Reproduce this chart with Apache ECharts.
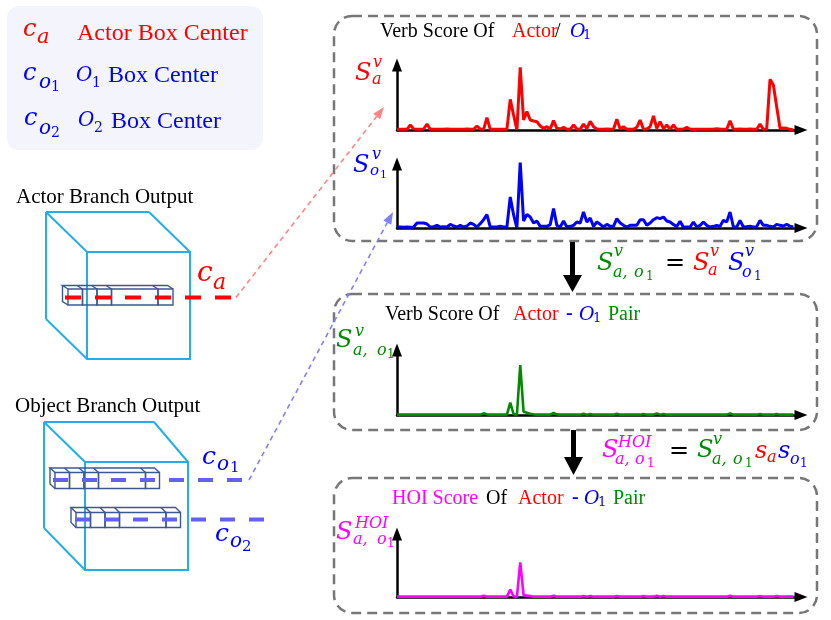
<!DOCTYPE html>
<html><head><meta charset="utf-8">
<script src="https://cdn.jsdelivr.net/npm/echarts@6/dist/echarts.min.js"></script>
<style>html,body{margin:0;padding:0;background:#fff}#c{width:831px;height:620px}</style>
</head><body><div id="c"></div>
<script>
// ---- data (verb class index -> score, arbitrary units) ----
const actorVerb = [
 2,2,2,2,15,3,2,2,3,18,
 2,2,2,2,2,3,2,2,2,2,
 2,3,2,2,12,3,2,37,2,2,
 2,2,2,2,92,45,0,188,30,55,
 30,27,25,12,5,10,3,28,5,3,
 8,2,2,15,3,2,18,4,26,10,
 3,2,2,3,2,2,32,3,10,2,
 2,2,8,30,2,3,10,42,5,25,
 4,15,2,15,2,2,3,8,2,2,
 2,2,2,2,2,2,4,2,2,2,
 28,2,2,3,2,2,3,2,2,18,
 2,3,152,135,70,5,6,5,2,0];
const objectVerb = [
 3,3,2,3,2,3,15,15,15,12,
 3,4,8,3,4,3,11,6,3,8,
 3,6,15,11,3,13,25,40,3,3,
 3,5,3,3,93,40,0,198,21,41,
 33,15,21,5,5,5,10,58,8,3,
 21,3,5,8,18,15,48,18,30,5,
 18,11,3,11,5,5,28,15,8,3,
 8,8,8,25,25,8,15,25,31,28,
 33,21,18,10,5,20,2,3,3,18,
 3,8,18,8,3,5,8,5,23,18,
 48,3,3,23,3,4,5,3,4,23,
 8,8,5,3,11,8,6,11,5,3];
const pairVerb = [
 1,1,1,1,1,1,1,1,1,1,
 1,1,1,1,1,1,1,1,1,1,
 1,1,1,1,1,1,5,2,1,1,
 1,1,1,1,37,3,0,150,10,7,
 4,2,1,1,1,1,1,6,2,1,
 1,1,1,1,1,1,4,1,3,1,
 1,1,1,1,1,1,4,1,1,1,
 1,1,1,1,3,1,1,1,5,1,
 3,1,1,1,1,1,1,1,1,1,
 1,1,1,1,1,1,1,1,1,1,
 5,1,1,1,1,1,1,1,1,3,
 1,1,1,1,3,1,1,1,1,1];
const pairHOI = [
 1,1,1,1,1,1,1,1,1,1,
 1,1,1,1,1,1,1,1,1,1,
 1,1,1,1,1,1,4,1,1,1,
 1,1,1,1,22,2,0,104,6,4,
 3,1,1,1,1,1,1,4,1,1,
 1,1,1,1,1,1,3,1,3,1,
 1,1,1,1,1,1,3,1,1,1,
 1,1,1,1,3,1,1,1,4,1,
 3,1,1,1,1,1,1,1,1,1,
 1,1,1,1,1,1,1,1,1,1,
 4,1,1,1,1,1,1,1,1,3,
 1,1,1,1,3,1,1,1,1,1];
const yMax = [195, 192, 195, 189];

const RED='#ff0000', BLUE='#0000ff', GREEN='#008a00', MAG='#ff00ff', BLACK='#000000';
const SERIF='"Liberation Serif","Times New Roman",serif';
const MATH='"DejaVu Serif",serif';
function T(x,y,text,fill,size,italic,family,weight){
  return {type:'text',x:x,y:y,z:20,style:{text:text,fill:fill,
    font:(italic?'italic ':'')+(weight||'normal')+' '+size+'px '+(family||SERIF),
    textAlign:'left',textVerticalAlign:'middle',align:'left',verticalAlign:'middle'}};
}
function M(x,y,text,fill,size){return T(x,y,text,fill,size,true,MATH);}
function D(x,y,text,fill,size){return T(x,y,text,fill,size,false,MATH);}
function L(x1,y1,x2,y2,stroke,w,dash,z){
  const s={stroke:stroke,lineWidth:w};
  if(dash) s.lineDash=dash;
  return {type:'line',z:z||5,shape:{x1:x1,y1:y1,x2:x2,y2:y2},style:s};
}
function arrowLine(x1,y1,tx,ty,color,w,dash,len,half){
  const dx=tx-x1, dy=ty-y1, d=Math.sqrt(dx*dx+dy*dy), ux=dx/d, uy=dy/d;
  const bx=tx-ux*len, by=ty-uy*len, nx=-uy, ny=ux;
  return [L(x1,y1,bx,by,color,w,dash,6),
    {type:'polygon',z:6,shape:{points:[[tx,ty],[bx+nx*half,by+ny*half],[bx-nx*half,by-ny*half]]},style:{fill:color}}];
}
function strip(xs,yT,yB,dx,dy,color){
  const els=[], st={fill:'none',stroke:color,lineWidth:1.4};
  const x0=xs[0], xN=xs[xs.length-1];
  for(let k=0;k<xs.length-1;k++) els.push({type:'rect',z:4,shape:{x:xs[k],y:yT,width:xs[k+1]-xs[k],height:yB-yT},style:st});
  els.push({type:'polyline',z:4,shape:{points:[[x0,yT],[x0+dx,yT+dy],[xN+dx,yT+dy],[xN,yT]]},style:st});
  for(let k=1;k<xs.length-1;k++) els.push(L(xs[k],yT,xs[k]+dx,yT+dy,color,1.4,null,4));
  els.push({type:'polyline',z:4,shape:{points:[[x0+dx,yT+dy],[x0+dx,yB+dy],[x0,yB]]},style:st});
  return els;
}
function cube(bx,by,bw,bh,fx,fy,fw,fh,color){
  return [L(bx,by,bx+bw,by,color,2,null,3), L(bx,by,bx,by+bh,color,2,null,3),
    L(bx,by,fx,fy,color,2,null,3), L(bx+bw,by,fx+fw,fy,color,2,null,3), L(bx,by+bh,fx,fy+fh,color,2,null,3),
    {type:'rect',z:3,shape:{x:fx,y:fy,width:fw,height:fh},style:{fill:'none',stroke:color,lineWidth:2}}];
}
function dbox(x,y,w,h){
  return {type:'rect',z:1,shape:{x:x,y:y,width:w,height:h,r:18},style:{fill:'none',stroke:'#777777',lineWidth:2.5,lineDash:[10,6]}};
}

const CUBE='#25aee6', STRIP='#3b5894';
let g=[];
// legend
g.push({type:'rect',z:0,shape:{x:7,y:6,width:256,height:144,r:12},style:{fill:'#f4f4fc'}});
g.push(M(23,30,'c',RED,24), M(37,38,'a',RED,21), T(77,34,'Actor Box Center',RED,24));
g.push(M(23,74,'c',BLUE,24), M(39,83,'o',BLUE,20), D(51,87,'1',BLUE,14), M(76,76,'O',BLUE,20), D(92,83,'1',BLUE,14), T(108,76,'Box Center',BLUE,24));
g.push(M(24,119,'c',BLUE,24), M(39,129,'o',BLUE,20), D(51,133,'2',BLUE,14), M(78,121,'O',BLUE,20), D(94,128,'2',BLUE,14), T(111,122,'Box Center',BLUE,24));
// cubes
g.push(T(16,197,'Actor Branch Output',BLACK,21));
g=g.concat(cube(46,212,103,107,87,252,103,107,CUBE));
g=g.concat(strip([68,82.5,97,111.5,158,173],289,305,-5.5,-3.5,STRIP));
g.push(L(65,297.5,236,297.5,RED,4,[16,14],8));
g.push(M(197,274,'c',RED,28), M(213,283,'a',RED,22));
g.push(T(15,406.5,'Object Branch Output',BLACK,21));
g=g.concat(cube(44,422,110,106,85,462,103,108,CUBE));
g=g.concat(strip([55,69.5,84,98.5,145.5,159.5],472.5,488.5,-5,-4.5,STRIP));
g=g.concat(strip([76,90.5,105,119.5,166,180.5],512.5,527.5,-5,-5,STRIP));
g.push(L(53,480,249,480,'#6262ee',4,[15,14],8));
g.push(L(75,519.5,266,519.5,'#6262ee',4,[15,14],8));
g.push(M(202,457,'c',BLUE,25), M(217,465,'o',BLUE,20), D(230,468.5,'1',BLUE,15));
g.push(M(215,534,'c',BLUE,25), M(230,542,'o',BLUE,20), D(242,547.5,'2',BLUE,15));
// connectors
g=g.concat(arrowLine(236,297.5,384,107,'#ff8585',1.6,[5,4],12,4.5));
g=g.concat(arrowLine(249,480,393,212,'#8080ff',1.6,[5,4],12,4.5));
// right boxes
g.push(dbox(334,16,483,225), dbox(334,294,483,136), dbox(334,478,483,135));
// titles
g.push(T(380,32,'Verb Score Of',BLACK,20), T(512,32,'Actor',RED,20), T(555,32,'/',BLACK,20), M(570,32,'O',BLUE,19), D(583,36,'1',BLUE,13));
g.push(T(385,315,'Verb Score Of',BLACK,20), T(513,315,'Actor',RED,20), T(566,314,'-',BLUE,20,false,SERIF,'bold'), M(579,315,'O',BLUE,19), D(593,319,'1',BLUE,13), T(608,315,'Pair',GREEN,20));
g.push(T(392,499,'HOI Score',MAG,20), T(486,499,'Of',BLACK,20), T(518,499,'Actor',RED,20), T(572,498,'-',BLUE,20,false,SERIF,'bold'), M(584,499,'O',BLUE,19), D(598,503,'1',BLUE,13), T(613,499,'Pair',GREEN,20));
// y labels
g.push(M(355,73.5,'S',RED,24), M(373,63,'v',RED,16), M(372,80,'a',RED,16));
g.push(M(353,165.5,'S',BLUE,24), M(372,154.5,'v',BLUE,16), M(370,171.5,'o',BLUE,15), D(380,175.5,'1',BLUE,11));
g.push(M(336,341,'S',GREEN,24), M(355,331.5,'v',GREEN,16), M(353,351,'a,',GREEN,16), M(377,351,'o',GREEN,16), D(387,355,'1',GREEN,12));
g.push(M(336,532.5,'S',MAG,24), M(355,523.5,'HOI',MAG,16), M(353,540,'a,',MAG,16), M(377,540,'o',MAG,16), D(387,544,'1',MAG,12));
// arrows down
g.push({type:'rect',z:6,shape:{x:570,y:242,width:5,height:35},style:{fill:BLACK}});
g.push({type:'polygon',z:6,shape:{points:[[563,275],[582,275],[572.5,292]]},style:{fill:BLACK}});
g.push({type:'rect',z:6,shape:{x:571,y:430,width:5,height:28},style:{fill:BLACK}});
g.push({type:'polygon',z:6,shape:{points:[[564,457],[583,457],[573.5,475]]},style:{fill:BLACK}});
// formula 1
g.push(M(597,264,'S',GREEN,24), M(614,252,'v',GREEN,16), M(613,272.5,'a,',GREEN,16), M(634,272.5,'o',GREEN,16), D(646,276.5,'1',GREEN,12),
  D(665,264,'=',BLACK,24), M(693,264,'S',RED,24), M(710,251.5,'v',RED,16), M(708,270.5,'a',RED,16),
  M(728,264,'S',BLUE,24), M(745,251.5,'v',BLUE,16), M(742,273,'o',BLUE,16), D(754,277,'1',BLUE,12));
// formula 2
g.push(M(602,451,'S',MAG,24), M(618,443,'HOI',MAG,16), M(615,460,'a,',MAG,16), M(635,460,'o',MAG,16), D(647,464,'1',MAG,12),
  D(669,452,'=',BLACK,24), M(697,451,'S',GREEN,24), M(713,440,'v',GREEN,16), M(712,460,'a,',GREEN,16), M(733,460,'o',GREEN,16), D(745,464,'1',GREEN,12),
  M(755,452,'s',RED,24), M(767,458,'a',RED,16), M(778,452,'s',BLUE,24), M(790,460,'o',BLUE,16), D(800,464,'1',BLUE,12));

const grids=[{left:397,top:65,width:404,height:65},{left:397,top:164,width:404,height:64},
  {left:397,top:350,width:404,height:65},{left:397,top:534,width:404,height:63}];
const axLine={show:true,onZero:false,symbol:['none','triangle'],symbolSize:[10,13],lineStyle:{color:'#000',width:2.5}};
const seriesData=[actorVerb,objectVerb,pairVerb,pairHOI];
const colors=[RED,BLUE,GREEN,MAG];
const widths=[3,3,2.6,2.6];
const option={
  animation:false,
  grid:grids,
  xAxis:grids.map((gr,k)=>({type:'value',gridIndex:k,min:0,max:121.3,axisLine:axLine,axisTick:{show:false},axisLabel:{show:false},splitLine:{show:false}})),
  yAxis:grids.map((gr,k)=>({type:'value',gridIndex:k,min:0,max:yMax[k],axisLine:axLine,axisTick:{show:false},axisLabel:{show:false},splitLine:{show:false}})),
  series:seriesData.map((arr,k)=>({type:'line',xAxisIndex:k,yAxisIndex:k,data:arr.map((v,i)=>[i,v]),symbol:'none',
    lineStyle:{color:colors[k],width:widths[k]},itemStyle:{color:colors[k]},z:3})),
  graphic:{elements:g}
};
const chart=echarts.init(document.getElementById('c'),null,{renderer:'canvas'});
chart.setOption(option);
</script></body></html>
